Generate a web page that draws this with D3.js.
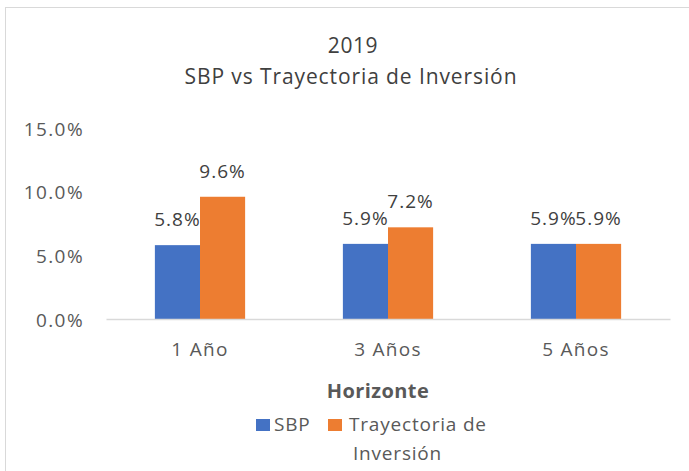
<!DOCTYPE html>
<html>
<head>
<meta charset="utf-8">
<script src="https://cdn.jsdelivr.net/npm/d3@7"></script>
<style>
  body { margin: 0; background: #fff; }
  text { font-family: "Open Sans", sans-serif; }
</style>
</head>
<body>
<div id="chart"></div>
<script>
// data
const horizons = ['1 Año', '3 Años', '5 Años'];
const sbp = [5.8, 5.9, 5.9];
const trayectoria = [9.6, 7.2, 5.9];
const seriesNames = ['SBP', 'Trayectoria de Inversión'];
const seriesColors = ['#4472c4', '#ed7d31'];
const yTicks = [0, 5, 10, 15];

const width = 689, height = 471;
const margin = { top: 128, right: 19, bottom: 151, left: 106 };

const svg = d3.select('#chart').append('svg')
  .attr('width', width)
  .attr('height', height);

// chart area border
svg.append('rect')
  .attr('x', 5.5).attr('y', 7.5)
  .attr('width', 690).attr('height', 470)
  .attr('fill', 'none')
  .attr('stroke', '#d9d9d9');

// titles
svg.append('text')
  .attr('x', 353).attr('y', 53)
  .attr('text-anchor', 'middle')
  .attr('font-size', 21)
  .attr('letter-spacing', 0.6)
  .attr('fill', '#404040')
  .text('2019');
svg.append('text')
  .attr('x', 351).attr('y', 84)
  .attr('text-anchor', 'middle')
  .attr('font-size', 21)
  .attr('letter-spacing', 0.9)
  .attr('fill', '#404040')
  .text('SBP vs Trayectoria de Inversión');

const x = d3.scaleBand()
  .domain(horizons)
  .range([margin.left, width - margin.right])
  .paddingInner(0.52)
  .paddingOuter(0.26);

const xs = d3.scaleBand()
  .domain(seriesNames)
  .range([0, x.bandwidth()]);

const y = d3.scaleLinear()
  .domain([0, 15])
  .range([height - margin.bottom - 1, margin.top]);

const g = svg.append('g');

// y axis labels
const yAxis = d3.axisLeft(y)
  .tickValues(yTicks)
  .tickFormat(d => d.toFixed(1) + '%')
  .tickSize(0)
  .tickPadding(0);
svg.append('g')
  .attr('transform', `translate(${margin.left - 22},0)`)
  .call(yAxis)
  .call(s => s.select('.domain').remove())
  .call(s => s.selectAll('text')
    .attr('font-size', 19)
    .attr('letter-spacing', 1.4)
    .attr('dy', '0.38em')
    .attr('fill', '#595959')
    .style('font-family', '"Open Sans", sans-serif'));

// bars
const rows = horizons.map((h, i) => ({ h, vals: [sbp[i], trayectoria[i]] }));
const groups = g.selectAll('g.grp').data(rows).join('g')
  .attr('class', 'grp')
  .attr('transform', d => `translate(${x(d.h)},0)`);

groups.selectAll('rect').data(d => d.vals.map((v, k) => ({ v, k })))
  .join('rect')
  .attr('x', d => xs(seriesNames[d.k]))
  .attr('y', d => y(d.v))
  .attr('width', xs.bandwidth())
  .attr('height', d => y(0) - y(d.v))
  .attr('fill', d => seriesColors[d.k]);

groups.selectAll('text').data(d => d.vals.map((v, k) => ({ v, k })))
  .join('text')
  .attr('x', d => xs(seriesNames[d.k]) + xs.bandwidth() / 2)
  .attr('y', d => y(d.v) - 19)
  .attr('text-anchor', 'middle')
  .attr('font-size', 19)
  .attr('letter-spacing', 1)
  .attr('fill', '#404040')
  .text(d => d.v.toFixed(1) + '%');

// x axis
const xAxis = d3.axisBottom(x).tickSize(0).tickPadding(24);
svg.append('g')
  .attr('transform', `translate(0,${y(0)})`)
  .call(xAxis)
  .call(s => s.select('.domain').attr('stroke', '#d9d9d9').attr('stroke-width', 1.3))
  .call(s => s.selectAll('text')
    .attr('font-size', 19)
    .attr('letter-spacing', 1.3)
    .attr('fill', '#595959')
    .style('font-family', '"Open Sans", sans-serif'));

// axis title
svg.append('text')
  .attr('x', 378).attr('y', 398)
  .attr('text-anchor', 'middle')
  .attr('font-size', 20)
  .attr('font-weight', 'bold')
  .attr('letter-spacing', 0.4)
  .attr('fill', '#595959')
  .text('Horizonte');

// legend
const legend = svg.append('g');
legend.append('rect').attr('x', 256).attr('y', 419).attr('width', 14).attr('height', 12).attr('fill', seriesColors[0]);
legend.append('text').attr('x', 274).attr('y', 431).attr('font-size', 19).attr('letter-spacing', 0.8).attr('fill', '#595959').text(seriesNames[0]);
legend.append('rect').attr('x', 328).attr('y', 419).attr('width', 14).attr('height', 12).attr('fill', seriesColors[1]);
legend.append('text').attr('x', 349).attr('y', 431).attr('font-size', 19).attr('letter-spacing', 0.8).attr('fill', '#595959').text('Trayectoria de');
legend.append('text').attr('x', 353).attr('y', 460).attr('font-size', 19).attr('letter-spacing', 0.8).attr('fill', '#595959').text('Inversión');
</script>
</body>
</html>
